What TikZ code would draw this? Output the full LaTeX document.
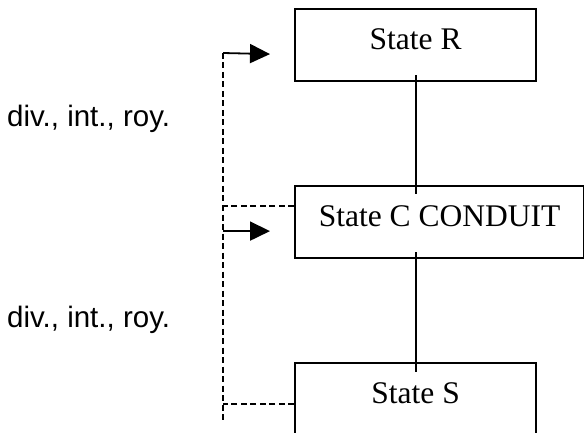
\documentclass[tikz,border=0pt]{standalone}
\usepackage{fontspec}
\setmainfont{Liberation Serif}
\newfontfamily\labelfont{Liberation Sans}
\usetikzlibrary{calc}
\usetikzlibrary{arrows.meta}

\begin{document}
\begin{tikzpicture}[x=1pt,y=-1pt,
        statebox/.style={draw, line width=2.2pt, anchor=north west, minimum height=72pt,
            text height=22pt, text depth=14pt, inner sep=0pt, font=\fontsize{31.5}{36}\selectfont},
        flowlabel/.style={anchor=base west, inner sep=0pt, font=\labelfont\fontsize{29.5}{34}\selectfont},
        link/.style={line width=1.9pt},
        feedback/.style={line width=1.8pt, dash pattern=on 6pt off 3.5pt},
        pointer/.style={line width=1.8pt, -{Triangle[length=20pt,width=19pt]}}]
            \useasboundingbox (0,0) rectangle (584,433);
            \fill[white] (0,0) rectangle (584,433);

            % Draw the state boxes
            \node[statebox, minimum width=241pt] (R) at (294,8) {State R};
            \node[statebox, minimum width=289pt] (C) at (294,185) {State C CONDUIT};
            \node[statebox, minimum width=241pt] (S) at (294,362) {State S};

            % Labels on the left
            \node[flowlabel] (labRC) at (7,127) {div., int., roy.};
            \node[flowlabel] (labCS) at (7,327) {div., int., roy.};

            % Solid links between states
            \draw[link] ($(R.south)+(0,-7)$) -- ($(R.south |- C.north)+(0,9)$);
            \draw[link] ($(S.north |- C.south)+(0,-7)$) -- ($(S.north)+(0,10)$);

            % Feedback bus
            \coordinate (busTop) at (223,53);
            \coordinate (busBot) at (223,422);
            \coordinate (tipR) at ($(R.west)+(-24,9)$);
            \coordinate (tipC) at ($(C.west)+(-24,9)$);
            \coordinate (outC) at ($(C.west)+(0,-16)$);
            \coordinate (outS) at ($(S.west)+(0,5)$);

            \draw[feedback] (busTop) -- (busBot);
            \draw[feedback] (outC) -- (outC -| busTop);
            \draw[feedback] (outS) -- (outS -| busTop);

            % Draw arrows into the states
            \draw[pointer] (busTop) -- (tipR);
            \draw[pointer] (tipC -| busTop) -- (tipC);
\end{tikzpicture}
\end{document}
